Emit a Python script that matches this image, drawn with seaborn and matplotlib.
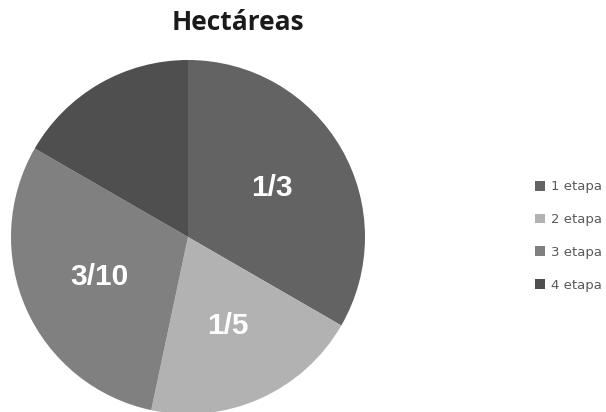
import matplotlib
matplotlib.use("Agg")
import matplotlib.pyplot as plt
import seaborn as sns

etapas = ["1 etapa", "2 etapa", "3 etapa", "4 etapa"]
fracciones = [1/3, 1/5, 3/10, 1/6]
etiquetas = ["1/3", "1/5", "3/10", ""]
colores = ["#636363", "#b2b2b2", "#808080", "#4f4f4f"]

sns.set_theme(style="white")
plt.rcParams['font.family'] = ['Liberation Sans', 'DejaVu Sans']

fig = plt.figure(figsize=(6.06, 4.12), dpi=100)
# pie centre ~ (188, 237) px, radius ~177 px
ax = fig.add_axes([(188 - 177) / 606, (175 - 177) / 412, 354 / 606, 354 / 412])

wedges, texts = ax.pie(fracciones, colors=colores, startangle=90, counterclock=False,
                       labels=etiquetas, labeldistance=0.55,
                       wedgeprops=dict(linewidth=0))
for t in texts:
    t.set_color("white")
    t.set_fontsize(21.5)
    t.set_fontweight("bold")
    t.set_ha("center")
    t.set_va("center")
ax.set_xlim(-1, 1)
ax.set_ylim(-1, 1)
ax.set_aspect("equal")
ax.axis("off")

fig.text(238 / 606, 1 - 30 / 412, "Hectáreas", ha="center", va="baseline",
         fontsize=19, fontweight="bold", color="#1a1a1a", family=["Open Sans", "DejaVu Sans"])

leg = fig.legend(wedges, etapas, loc="center left", bbox_to_anchor=(523 / 606, 1 - 236 / 412),
                 frameon=False, prop={"family": "DejaVu Sans", "size": 9.5},
                 handlelength=0.76, handleheight=0.76,
                 handletextpad=0.45, labelspacing=1.5)
for t in leg.get_texts():
    t.set_color("#595959")

fig.savefig("out.png", dpi=100)
